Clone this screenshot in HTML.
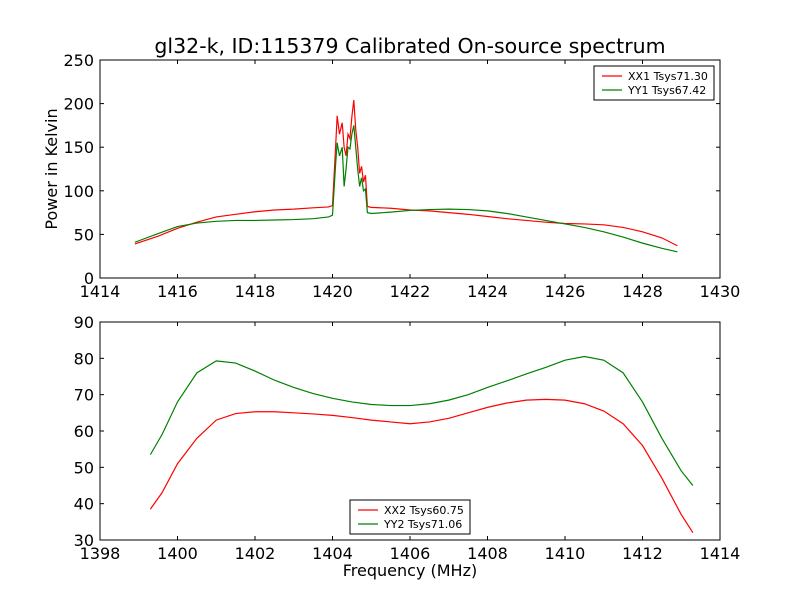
<!DOCTYPE html>
<html><head><meta charset="utf-8"><style>
body{margin:0;background:#fff;}
svg{display:block;font-family:"DejaVu Sans","Liberation Sans",sans-serif;}
</style></head><body>
<svg id="c" width="800" height="600" viewBox="0 0 800 600"></svg>
<script>
const topFreq=[1414.9,1415.5,1416,1416.5,1417,1417.5,1418,1418.5,1419,1419.5,1419.9,1420.0,1420.08,1420.12,1420.18,1420.25,1420.3,1420.35,1420.4,1420.45,1420.5,1420.55,1420.6,1420.65,1420.7,1420.75,1420.8,1420.85,1420.9,1421,1421.5,1422,1422.5,1423,1423.5,1424,1424.5,1425,1425.5,1426,1426.5,1427,1427.5,1428,1428.5,1428.9];
const xx1=[39,48,57,64,70,73,76,78,79,80.5,81.5,83,150,186,165,178,150,140,165,160,185,204,170,150,120,128,110,118,82,81,80,78,77,75,73,70.5,68,66,64,62.5,62,61,58,53,46,37];
const yy1=[41,51,59,63,65,66,66,66.5,67,68,70,72,130,155,140,150,105,125,150,148,165,175,150,125,105,115,100,102,75,74,75.5,77.5,78.5,79,78.5,77,74,70,66,62,58,53,47,40,34,30];
const botFreq=[1399.3,1399.6,1400,1400.5,1401,1401.5,1402,1402.5,1403,1403.5,1404,1404.5,1405,1405.5,1406,1406.5,1407,1407.5,1408,1408.5,1409,1409.5,1410,1410.5,1411,1411.5,1412,1412.5,1413,1413.3];
const xx2=[38.5,43,51,58,63,64.8,65.3,65.3,65,64.7,64.3,63.7,63,62.5,62,62.5,63.5,65,66.5,67.7,68.5,68.7,68.5,67.5,65.5,62,56,47,37,32];
const yy2=[53.5,59,68,76,79.3,78.7,76.5,74,72,70.3,69,68,67.3,67,67,67.5,68.5,70,72,73.8,75.7,77.5,79.5,80.5,79.5,76,68,58,49,45];
const topXTicks=[1414,1416,1418,1420,1422,1424,1426,1428,1430];
const topYTicks=[0,50,100,150,200,250];
const botXTicks=[1398,1400,1402,1404,1406,1408,1410,1412,1414];
const botYTicks=[30,40,50,60,70,80,90];

const svg=document.getElementById('c');
const NS='http://www.w3.org/2000/svg';
function mk(tag,attrs,parent){const e=document.createElementNS(NS,tag);for(const k in attrs)e.setAttribute(k,attrs[k]);(parent||svg).appendChild(e);return e;}
function txt(s,x,y,size,anchor,parent){const t=mk('text',{x:x,y:y,'font-size':size,'text-anchor':anchor||'middle',fill:'#000'},parent);t.textContent=s;return t;}

function panel(name,L,T,R,B,x0,x1,y0,y1,xt,yt,series,legend,ylabel,xlabel){
  const g=mk('g',{});
  
  
  const sx=v=>L+(v-x0)/(x1-x0)*(R-L);
  const sy=v=>B-(v-y0)/(y1-y0)*(B-T);
  series.forEach(s=>{
    const d=s.x.map((v,i)=>(i?'L':'M')+sx(v).toFixed(2)+' '+sy(s.y[i]).toFixed(2)).join(' ');
    const p=mk('path',{d:d,fill:'none',stroke:s.c,'stroke-width':1.2},g);
    
    
  });
  const fr=mk('rect',{x:L,y:T,width:R-L,height:B-T,fill:'none',stroke:'#000','stroke-width':1},g);
  
  
  xt.forEach(v=>{const x=sx(v);mk('line',{x1:x,x2:x,y1:B,y2:B-4,stroke:'#000'},g);mk('line',{x1:x,x2:x,y1:T,y2:T+4,stroke:'#000'},g);
    const t=txt(String(v),x,B+19,16,'middle',g);});
  yt.forEach(v=>{const y=sy(v);mk('line',{x1:L,x2:L+4,y1:y,y2:y,stroke:'#000'},g);mk('line',{x1:R,x2:R-4,y1:y,y2:y,stroke:'#000'},g);
    const t=txt(String(v),L-6,y+6,16,'end',g);});
  const lg=mk('g',{},g);
  
  
  mk('rect',{x:legend.x,y:legend.y,width:120,height:34,fill:'#fff',stroke:'#000'},lg);
  series.forEach((s,i)=>{const yy=legend.y+10+i*14;
    mk('line',{x1:legend.x+8,x2:legend.x+28,y1:yy,y2:yy,stroke:s.c,'stroke-width':1.2},lg);
    const t=txt(s.label,legend.x+34,yy+4,11,'start',lg);});
  if(ylabel){const t=txt(ylabel,0,0,16,'middle',g);t.setAttribute('transform','translate(57,'+((T+B)/2)+') rotate(-90)');}
  if(xlabel){const t=txt(xlabel,(L+R)/2,576,16,'middle',g);}
}
const title=txt('gl32-k, ID:115379 Calibrated On-source spectrum',410,53,20.5);


panel('top-panel',100,60,720,278,1414,1430,0,250,topXTicks,topYTicks,
 [{x:topFreq,y:xx1,c:'#ff0000',n:'series-xx1',label:'XX1 Tsys71.30'},{x:topFreq,y:yy1,c:'#008000',n:'series-yy1',label:'YY1 Tsys67.42'}],
 {x:594,y:66},'Power in Kelvin',null);
panel('bottom-panel',100,322,720,540,1398,1414,30,90,botXTicks,botYTicks,
 [{x:botFreq,y:xx2,c:'#ff0000',n:'series-xx2',label:'XX2 Tsys60.75'},{x:botFreq,y:yy2,c:'#008000',n:'series-yy2',label:'YY2 Tsys71.06'}],
 {x:350,y:500},null,'Frequency (MHz)');
</script>
</body></html>
